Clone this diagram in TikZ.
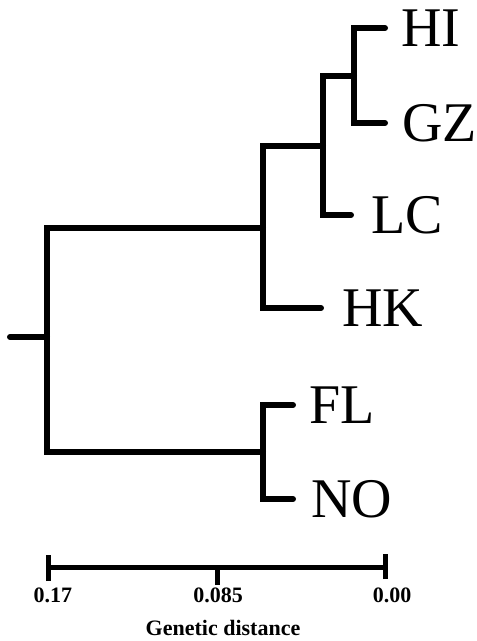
\documentclass[tikz,border=0pt]{standalone}
\usepackage{fontspec}
\setmainfont{Liberation Serif}
\usetikzlibrary{positioning}
\tikzset{
  branch/.style={line width=6pt, line cap=round},
  scalebar/.style={line width=5pt},
  taxon/.style={inner sep=0pt, font=\fontsize{56}{58}\selectfont},
  ticklabel/.style={inner sep=0pt, font=\fontsize{22}{24}\selectfont\bfseries},
}

\begin{document}
\begin{tikzpicture}[x=1pt, y=-1pt]
			%%%%% START %%%%%
			\useasboundingbox (0, 0) rectangle (477, 641);
			
			% internal nodes
			\coordinate (r0) at (10, 337);
			\coordinate (r) at (47, 337);
			\coordinate (n1) at (263, 228);
			\coordinate (n2) at (323, 146);
			\coordinate (n3) at (354, 76);
			\coordinate (n4) at (263, 452);
			
			% tips
			\coordinate (tHI) at (385, 28);
			\coordinate (tGZ) at (385, 123);
			\coordinate (tLC) at (351, 215);
			\coordinate (tHK) at (321, 308);
			\coordinate (tFL) at (293, 405);
			\coordinate (tNO) at (293, 499);
			
			\node[taxon, right=16pt of tHI] (HI) {HI};
			\node[taxon, right=17pt of tGZ] (GZ) {GZ};
			\node[taxon, right=20pt of tLC] (LC) {LC};
			\node[taxon, right=21pt of tHK] (HK) {HK};
			\node[taxon, right=16pt of tFL] (FL) {FL};
			\node[taxon, right=18pt of tNO] (NO) {NO};
			
			\draw[branch] (r0) -- (r);
			\draw[branch] (r) |- (n1);
			\draw[branch] (r) |- (n4);
			\draw[branch] (n1) |- (n2);
			\draw[branch] (n1) |- (tHK);
			\draw[branch] (n2) |- (n3);
			\draw[branch] (n2) |- (tLC);
			\draw[branch] (n3) |- (tHI);
			\draw[branch] (n3) |- (tGZ);
			\draw[branch] (n4) |- (tFL);
			\draw[branch] (n4) |- (tNO);
			
			% scale bar
			\coordinate (s0) at (48, 567);
			\coordinate (s1) at (217, 567);
			\coordinate (s2) at (385, 567);
			\draw[scalebar] (s0) -- (s2);
			\draw[scalebar] ([yshift=-14pt]s0) -- ([yshift=12pt]s0);
			\draw[scalebar] ([yshift=-18pt]s1) -- (s1);
			\draw[scalebar] ([yshift=-12pt]s2) -- ([yshift=13pt]s2);
			
			\node[ticklabel, below=21pt of s0, xshift=5pt] (l0) {0.17};
			\node[ticklabel, below=21pt of s1, xshift=1pt] (l1) {0.085};
			\node[ticklabel, below=21pt of s2, xshift=7pt] (l2) {0.00};
			\node[ticklabel, anchor=base] (axis) at (223, 635) {Genetic distance};
			
			%%%%% END %%%%%
\end{tikzpicture}
\end{document}
